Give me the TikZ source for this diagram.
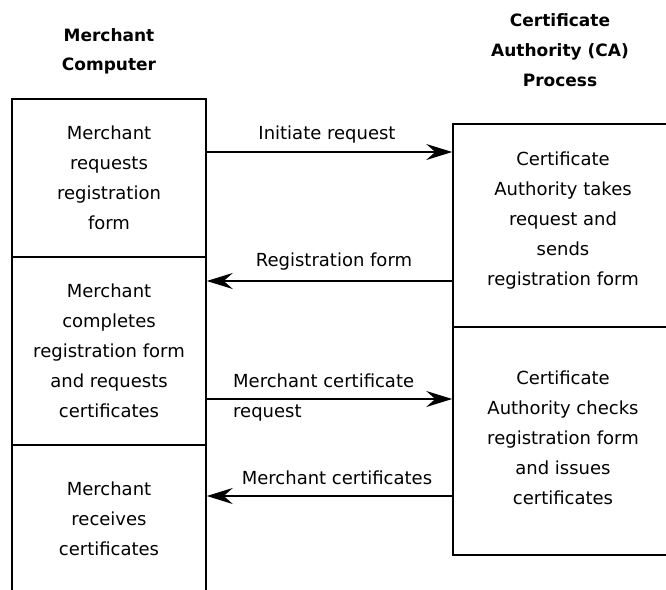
\documentclass[tikz,border=0pt]{standalone}
\usepackage{fontspec}
\setmainfont{DejaVu Sans}
\usetikzlibrary{arrows.meta}

\tikzset{
  stage/.style={draw, line width=1.5pt, align=center, inner sep=0pt},
  flow/.style={-{Stealth[length=26pt,width=16pt,inset=9pt]}, line width=1.5pt},
  msg/.style={inner sep=0pt},
  head/.style={align=center, inner sep=0pt, font=\bfseries\fontsize{17}{30}\selectfont}
}

\begin{document}
\begin{tikzpicture}[x=1pt, y=-1pt, font=\fontsize{18}{30}\selectfont]
  \clip (0,0) rectangle (666,589);

  % Headings
  \node[head] (hmerch) at (109,51) {Merchant\\[-1pt]Computer};
  \node[head] (hca) at (560,50) {Certificate\\Authority (CA)\\Process};

  % Merchant side
  \node[stage, minimum width=194pt, minimum height=158pt] (mreq) at (109,178)
    {Merchant\\requests\\registration\\form};
  \node[stage, minimum width=194pt, minimum height=188pt] (mcomp) at (109,351)
    {Merchant\\completes\\registration form\\and requests\\certificates};
  \node[stage, minimum width=194pt, minimum height=148pt] (mrecv) at (109,519)
    {Merchant\\receives\\certificates};

  % CA side
  \node[stage, minimum width=220pt, minimum height=203pt] (catake) at (563,225.5)
    {Certificate\\Authority takes\\request and\\sends\\registration form\\[-16pt]\mbox{}};
  \node[stage, minimum width=220pt, minimum height=228pt] (cacheck) at (563,441)
    {Certificate\\Authority checks\\registration form\\and issues\\certificates\\[-24pt]\mbox{}};

  % Messages
  \draw[flow] (mreq.east |- 0,152) -- (catake.west |- 0,152);
  \node[msg] (linit) at (327,135) {Initiate request};

  \draw[flow] (catake.west |- 0,281) -- (mcomp.east |- 0,281);
  \node[msg] (lform) at (334,262) {Registration form};

  \draw[flow] (mcomp.east |- 0,399) -- (cacheck.west |- 0,399);
  \node[msg, align=left, anchor=west] (lcreq) at (233,398) {Merchant certificate\\request};

  \draw[flow] (cacheck.west |- 0,496) -- (mrecv.east |- 0,496);
  \node[msg] (lcert) at (337,478) {Merchant certificates};
\end{tikzpicture}
\end{document}
